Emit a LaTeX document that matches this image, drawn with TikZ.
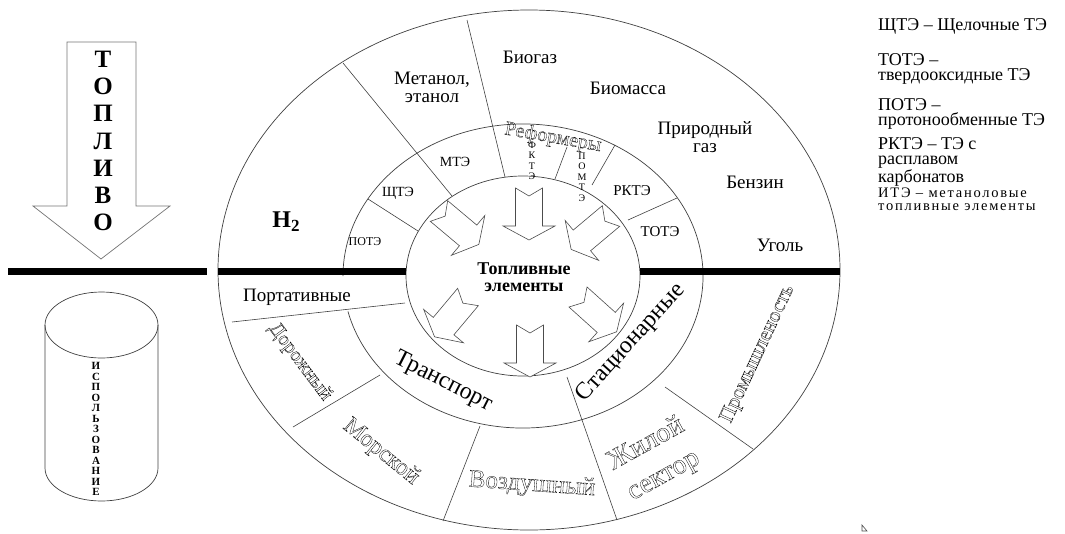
\documentclass[tikz,border=0pt]{standalone}
\usepackage{fontspec}
\setmainfont{Liberation Serif}
\newfontfamily\spacedfont[LetterSpace=12]{Liberation Serif}
\usepackage{tikz}
\usetikzlibrary{calc}

% hollow (stroked) letters, as in the word-art labels
\newcommand{\hollow}[1]{\special{pdf:literal direct 1 Tr 0.3 w}#1\special{pdf:literal direct 0 Tr}}

\tikzset{
  fatarrow/.pic={
    \draw[draw=black!70, line width=0.6pt, fill=white] (8,0) -- (0,13.5) -- (38,13.5) -- (38,26) -- (52,0) -- (38,-26) -- (38,-13.5) -- (0,-13.5) -- cycle;
  }
}

\begin{document}
\begin{tikzpicture}[x=1pt, y=1pt,
  ring/.style={draw=black!75, line width=0.7pt},
  divider/.style={draw=black!75, line width=0.6pt},
  bar/.style={draw=black, line width=7pt},
  fueltext/.style={inner sep=0pt, align=center, font=\fontsize{19}{18}\selectfont},
  celltext/.style={inner sep=0pt, align=center, font=\fontsize{14}{14}\selectfont},
  stacktext/.style={inner sep=0pt, align=center, font=\fontsize{10}{10.5}\selectfont},
  wordart/.style={inner sep=0pt, align=center},
  legendtext/.style={anchor=base west, inner sep=0pt, align=left, font=\fontsize{18}{14.5}\selectfont}
]
  \useasboundingbox (0,0) rectangle (1065,-533);

  % Left side: fuel arrow and usage cylinder
  \draw[draw=black!55, line width=0.7pt] (67,-42) -- (136,-42) -- (136,-206) -- (170,-206) -- (101,-259) -- (33,-206) -- (67,-206) -- cycle;
  \node[inner sep=0pt, align=center, font=\fontsize{25}{27.2}\selectfont\bfseries] (fuel) at (103,-141) {Т\\О\\П\\Л\\И\\В\\О};
  \draw[bar] (8,-271) -- (207,-271);

  \draw[ring] (101.5,-325) ellipse[x radius=56.5, y radius=33];
  \draw[ring] (45,-325) -- (45,-468) arc[start angle=180, end angle=360, x radius=56.5, y radius=33] -- (158,-325);
  \node[inner sep=0pt, align=center, font=\fontsize{11}{10.5}\selectfont\bfseries] (usage) at (96,-429) {И\\С\\П\\О\\Л\\Ь\\З\\О\\В\\А\\Н\\И\\Е};

  % Rings
  \coordinate (C) at (523,-276);
  \coordinate (Co) at (529,-270);
  \draw[ring] (C) ellipse[x radius=117, y radius=100];
  \draw[ring] (Co) ellipse[x radius=311, y radius=260];
  \draw[ring] ($(C)+(193.5:180 and 152)$) arc[start angle=193.5, end angle=540, x radius=180, y radius=152];
  \draw[bar] (218,-271) -- (406,-271);
  \draw[bar] (640,-271) -- (840,-271);

  % Upper half: fuels and cell types
  \draw[divider] (343,-63) -- (452,-196);
  \draw[divider] (467,-20) -- (505,-177);
  \draw[divider] (555,-179) -- (567,-147);
  \draw[divider] (592,-185) -- (615,-145);
  \draw[divider] (628,-220) -- (677,-198);
  \draw[divider] (368,-199) -- (418,-231);

  \node[inner sep=0pt, font=\fontsize{24}{24}\selectfont\bfseries] (h2) at (286,-222) {H\raisebox{-0.35ex}{\fontsize{17}{17}\selectfont 2}};
  \node[fueltext] (methanol) at (432,-87) {Метанол,\\этанол};
  \node[fueltext] (biogas) at (530,-57) {Биогаз};
  \node[fueltext] (biomass) at (628,-88) {Биомасса};
  \node[fueltext] (natgas) at (705,-137) {Природный\\газ};
  \node[fueltext] (petrol) at (755,-182) {Бензин};
  \node[fueltext] (coal) at (780,-245) {Уголь};

  \node[celltext, font=\fontsize{12}{12}\selectfont] (pem) at (365,-242) {ПОТЭ};
  \node[celltext] (afc) at (398,-193) {ЩТЭ};
  \node[celltext] (dmfc) at (455,-162) {МТЭ};
  \node[celltext, font=\fontsize{15}{15}\selectfont] (mcfc) at (632,-191) {РКТЭ};
  \node[celltext, font=\fontsize{15}{15}\selectfont] (sofc) at (660,-232) {ТОТЭ};
  \node[stacktext] (pafc) at (532,-161) {Ф\\К\\Т\\Э};
  \node[stacktext] (pomfc) at (582,-177) {П\\О\\М\\Т\\Э};
  \node[wordart, rotate=-10, font=\fontsize{20}{20}\selectfont] (reformers) at (553,-138) {\hollow{Реформеры}};

  % Centre: fuel cells and flow arrows
  \pic[rotate=-40] at (439,-211) {fatarrow};
  \pic[rotate=-90] at (529,-188) {fatarrow};
  \pic[rotate=-140] at (611,-216) {fatarrow};
  \pic[rotate=-130] at (468,-297) {fatarrow};
  \pic[rotate=-90] at (530,-325) {fatarrow};
  \pic[rotate=-42] at (578,-297) {fatarrow};
  \node[inner sep=0pt, align=center, font=\fontsize{18}{17}\selectfont\bfseries] (cells) at (524,-277) {Топливные\\элементы};

  % Lower half: applications
  \draw[divider] (232,-322) -- (405,-303);
  \draw[divider] (293,-427) -- (380,-375);
  \draw[divider] (480,-426) -- (443,-521);
  \draw[divider] (567,-377) -- (617,-520);
  \draw[divider] (665,-387) -- (753,-449);

  \node[fueltext] (portable) at (297,-297) {Портативные};
  \node[wordart, rotate=-53, font=\fontsize{20}{20}\selectfont] (road) at (300,-362) {\hollow{Дорожный}};
  \node[wordart, rotate=-39, font=\fontsize{24}{24}\selectfont] (sea) at (381,-452) {\hollow{Морской}};
  \node[wordart, rotate=-4, font=\fontsize{25}{25}\selectfont] (air) at (532,-485) {\hollow{Воздушный}};
  \node[wordart, rotate=29, font=\fontsize{28}{36}\selectfont] (housing) at (655,-460) {\hollow{Жилой}\\\hollow{сектор}};
  \node[wordart, rotate=65, font=\fontsize{21}{21}\selectfont] (industry) at (758,-354) {\hollow{Промышленость}};
  \node[wordart, rotate=-27, font=\fontsize{24}{24}\selectfont] (transport) at (443,-382) {Транспорт};
  \node[wordart, rotate=48, font=\fontsize{24}{24}\selectfont] (stationary) at (631,-343) {Стационарные};

  \draw[black!70, line width=0.6pt] (862,-525) -- (862,-531) -- (867,-531) -- cycle;

  % Legend (base = last line)
  \node[legendtext] (leg1) at (878,-30) {ЩТЭ – Щелочные ТЭ};
  \node[legendtext] (leg2) at (878,-80) {ТОТЭ –\\твердооксидные ТЭ};
  \node[legendtext] (leg3) at (878,-125) {ПОТЭ –\\протонообменные ТЭ};
  \node[legendtext] (leg4) at (878,-182) {РКТЭ – ТЭ с\\расплавом\\карбонатов};
  \node[legendtext, font=\spacedfont\fontsize{14.5}{12.5}\selectfont] (leg5) at (878,-210) {ИТЭ – метаноловые\\топливные элементы};
\end{tikzpicture}
\end{document}
